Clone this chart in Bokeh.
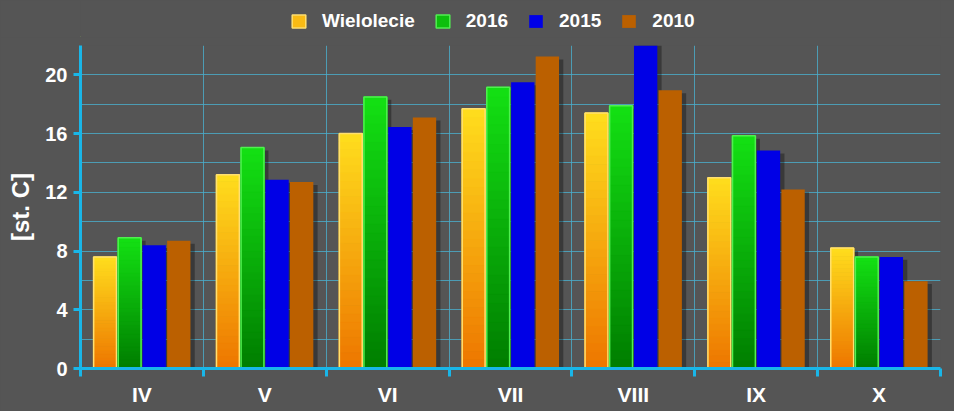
from bokeh.plotting import figure
from bokeh.models import FixedTicker, Legend, LegendItem, ColumnDataSource, Range1d
from bokeh.layouts import column
from bokeh.embed import file_html
from bokeh.resources import INLINE

months = ["IV", "V", "VI", "VII", "VIII", "IX", "X"]
series_names = ["Wielolecie", "2016", "2015", "2010"]
wielolecie = [7.6, 13.2, 16.0, 17.7, 17.4, 13.0, 8.2]
y2016 = [8.9, 15.05, 18.5, 19.15, 17.9, 15.85, 7.6]
y2015 = [8.4, 12.85, 16.45, 19.5, 22.3, 14.85, 7.6]
y2010 = [8.7, 12.7, 17.1, 21.25, 18.95, 12.2, 5.95]
y_ticks = [0, 4, 8, 12, 16, 20]
y_minor = [2, 6, 10, 14, 18, 22]

series = [wielolecie, y2016, y2015, y2010]
offsets = [-0.3, -0.1, 0.1, 0.3]
BW = 0.19
styles = [
    dict(bottom=(238, 118, 0), top=(255, 222, 30), line="#ffe070", solid=None),
    dict(bottom=(0, 125, 0), top=(20, 225, 20), line="#50f050", solid=None),
    dict(bottom=None, top=None, line="#0000dd", solid="#0000e6"),
    dict(bottom=None, top=None, line="#b35a00", solid="#bb6000"),
]

AX = "#19b6e8"
GRID = "#4aaecc"
BG = "#555555"
FONT = "Liberation Sans"

W = 954
LH = 37
H = 411 - LH
ML = 80

p = figure(width=W, height=H, output_backend="svg", toolbar_location=None,
           x_range=Range1d(0, len(months)), y_range=Range1d(0, 22),
           background_fill_color=BG, border_fill_color=BG,
           min_border_left=ML, min_border_right=14, min_border_top=8,
           min_border_bottom=43, outline_line_color=None,
           styles={"background-color": BG})

for k, vals in enumerate(series):
    xs = [i + 0.5 + offsets[k] + 0.035 for i in range(len(months))]
    tops = [max(v - 0.2, 0) for v in vals]
    p.vbar(x=xs, top=tops, bottom=0, width=BW, fill_color="black",
           fill_alpha=0.32, line_color=None)

N = 30
for k, vals in enumerate(series):
    st = styles[k]
    xs = [i + 0.5 + offsets[k] for i in range(len(months))]
    if st["solid"] is None:
        sx, sb, st_, sc = [], [], [], []
        for x, v in zip(xs, vals):
            for j in range(N):
                f = (j + 0.5) / N
                c = tuple(int(st["bottom"][m] + (st["top"][m] - st["bottom"][m]) * f) for m in range(3))
                sx.append(x)
                sb.append(v * j / N)
                st_.append(v * (j + 1) / N)
                sc.append("#%02x%02x%02x" % c)
        src = ColumnDataSource(dict(x=sx, bottom=sb, top=st_, color=sc))
        p.vbar(x="x", bottom="bottom", top="top", width=BW, fill_color="color",
               line_color="color", line_width=1, source=src)
        p.vbar(x=xs, top=vals, bottom=0.03, width=BW - 0.004, fill_color=None,
               line_color=st["line"], line_width=1.5)
    else:
        p.vbar(x=xs, top=vals, bottom=0, width=BW, fill_color=st["solid"],
               line_color=None)

xa = p.xaxis[0]
xa.ticker = FixedTicker(ticks=[i + 0.5 for i in range(len(months))],
                        minor_ticks=list(range(len(months) + 1)))
xa.major_label_overrides = {i + 0.5: m for i, m in enumerate(months)}
xa.major_tick_line_color = None
xa.minor_tick_out = 8
xa.minor_tick_in = 0
xa.minor_tick_line_color = AX
xa.minor_tick_line_width = 3
xa.axis_line_color = AX
xa.axis_line_width = 3
xa.major_label_text_color = "white"
xa.major_label_text_font = FONT
xa.major_label_text_font_style = "bold"
xa.major_label_text_font_size = "21px"
xa.major_label_standoff = 6

ya = p.yaxis[0]
ya.ticker = FixedTicker(ticks=y_ticks, minor_ticks=y_minor)
ya.major_tick_out = 7
ya.major_tick_in = 0
ya.major_tick_line_color = AX
ya.major_tick_line_width = 3
ya.minor_tick_line_color = None
ya.axis_line_color = AX
ya.axis_line_width = 3
ya.major_label_text_color = "white"
ya.major_label_text_font = FONT
ya.major_label_text_font_style = "bold"
ya.major_label_text_font_size = "20px"
ya.major_label_standoff = 6
ya.axis_label = "[st. C]"
ya.axis_label_text_color = "white"
ya.axis_label_text_font = FONT
ya.axis_label_text_font_style = "bold"
ya.axis_label_text_font_size = "24px"
ya.axis_label_standoff = 8

p.xgrid.ticker = FixedTicker(ticks=list(range(len(months) + 1)))
p.xgrid.grid_line_color = GRID
p.xgrid.grid_line_alpha = 0.8
p.ygrid.grid_line_color = GRID
p.ygrid.grid_line_alpha = 0.8
p.ygrid.minor_grid_line_color = GRID
p.ygrid.minor_grid_line_alpha = 0.8

# legend strip above the chart
lf = figure(width=W, height=LH, output_backend="svg", toolbar_location=None,
            x_range=Range1d(0, 1), y_range=Range1d(0, 1),
            background_fill_color=BG, border_fill_color=BG,
            min_border=0, outline_line_color=None,
            styles={"background-color": BG})
lf.axis.visible = False
lf.grid.visible = False
legend_items = []
for k, name in enumerate(series_names):
    st = styles[k]
    if st["solid"] is None:
        mid = tuple(int((st["bottom"][m] + 2 * st["top"][m]) / 3) for m in range(3))
        r = lf.vbar(x=[-50], top=[-50], bottom=-51, width=0.1,
                    fill_color="#%02x%02x%02x" % mid,
                    line_color=st["line"], line_width=1.5)
    else:
        r = lf.vbar(x=[-50], top=[-50], bottom=-51, width=0.1,
                    fill_color=st["solid"], line_color=None)
    legend_items.append(LegendItem(label=name, renderers=[r]))

legend = Legend(items=legend_items, orientation="horizontal",
                location=(290 - ML, 5),
                background_fill_alpha=0, border_line_color=None,
                label_text_color="white", label_text_font=FONT,
                label_text_font_style="bold", label_text_font_size="19px",
                glyph_width=17, glyph_height=16, label_height=18,
                spacing=19, padding=0, margin=0, label_standoff=15)
lf.add_layout(legend, "center")

layout = column(lf, p, spacing=0, styles={"background-color": BG})
open("out.html", "w").write(file_html(layout, INLINE))
